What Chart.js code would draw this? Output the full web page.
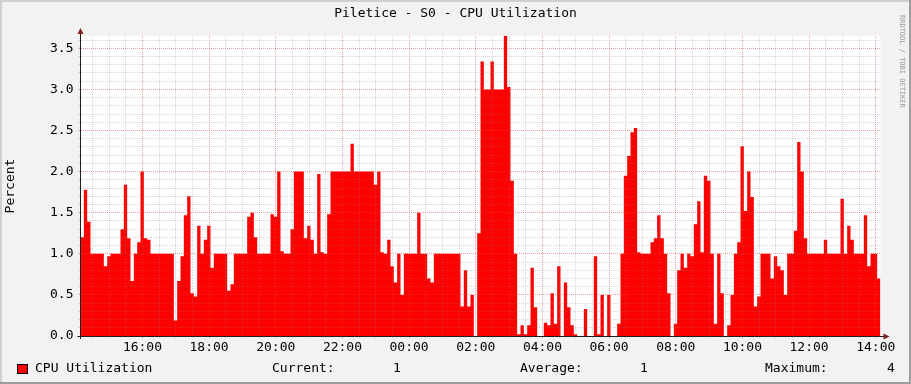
<!DOCTYPE html>
<html>
<head>
<meta charset="utf-8">
<title>Piletice - S0 - CPU Utilization</title>
<script src="https://cdn.jsdelivr.net/npm/chart.js@4.4.1/dist/chart.umd.min.js"></script>
<style>
  html, body { margin: 0; padding: 0; background: #f2f2f2; }
  #wrap { width: 911px; height: 384px; }
</style>
</head>
<body>
<div id="wrap"><canvas id="cpuChart" width="911" height="384"></canvas></div>
<script>
// 6 minute averages, minutes counted from 14:00 of the first day
const firstSampleMin = 8.5;
const sampleMin = 6;
const cpu = [
  1.2, 1.78, 1.39, 1.0, 1.0, 1.0, 1.0, 0.85, 0.97, 1.0,
  1.0, 1.0, 1.3, 1.84, 1.19, 0.67, 1.0, 1.14, 2.0, 1.19,
  1.17, 1.0, 1.0, 1.0, 1.0, 1.0, 1.0, 1.0, 0.19, 0.67,
  0.97, 1.47, 1.7, 0.52, 0.48, 1.34, 1.0, 1.17, 1.34, 0.83,
  1.0, 1.0, 1.0, 1.0, 0.55, 0.63, 1.0, 1.0, 1.0, 1.0,
  1.45, 1.5, 1.2, 1.0, 1.0, 1.0, 1.0, 1.48, 1.45, 2.0,
  1.03, 1.0, 1.0, 1.3, 2.0, 2.0, 2.0, 1.19, 1.34, 1.17,
  1.0, 1.97, 1.02, 1.0, 1.48, 2.0, 2.0, 2.0, 2.0, 2.0,
  2.0, 2.34, 2.0, 2.0, 2.0, 2.0, 2.0, 2.0, 1.84, 2.0,
  1.02, 1.0, 1.17, 0.85, 0.65, 1.0, 0.5, 1.0, 1.0, 1.0,
  1.0, 1.5, 1.0, 1.0, 0.7, 0.65, 1.0, 1.0, 1.0, 1.0,
  1.0, 1.0, 1.0, 1.0, 0.36, 0.8, 0.36, 0.5, 0, 1.25,
  3.34, 3.0, 3.0, 3.34, 3.0, 3.0, 3.0, 3.65, 3.03, 1.89,
  1.0, 0.02, 0.13, 0.02, 0.13, 0.83, 0.35, 0, 0, 0.16,
  0.13, 0.52, 0.15, 0.85, 0, 0.65, 0.35, 0.13, 0.02, 0,
  0, 0.33, 0, 0, 0.97, 0.02, 0.5, 0, 0.5, 0,
  0, 0.15, 1.0, 1.95, 2.19, 2.48, 2.53, 1.02, 1.0, 1.0,
  1.0, 1.14, 1.19, 1.47, 1.19, 1.0, 0.52, 0, 0.15, 0.8,
  1.0, 0.83, 1.0, 0.97, 1.36, 1.64, 1.02, 1.95, 1.89, 1.0,
  0.15, 1.0, 0.52, 0, 0.13, 0.5, 1.0, 1.14, 2.31, 1.52,
  2.0, 1.69, 0.36, 0.48, 1.0, 1.0, 1.0, 0.7, 0.97, 0.85,
  0.8, 0.5, 1.0, 1.0, 1.28, 2.36, 2.0, 1.19, 1.0, 1.0,
  1.0, 1.0, 1.0, 1.17, 1.0, 1.0, 1.0, 1.0, 1.67, 1.0,
  1.34, 1.17, 1.0, 1.0, 1.0, 1.47, 0.85, 1.0, 1.0, 0.7
];
const timeLabels = ['16:00', '18:00', '20:00', '22:00', '00:00', '02:00',
                    '04:00', '06:00', '08:00', '10:00', '12:00', '14:00'];
const yLabels = ['0.0', '0.5', '1.0', '1.5', '2.0', '2.5', '3.0', '3.5'];
const legendNames = ['Current:', 'Average:', 'Maximum:'];
const legendValues = ['1', '1', '4'];

const FONT = "'DejaVu Sans Mono', 'Liberation Mono', monospace";
const MINOR = 'rgba(130,130,130,0.32)';
const MAJOR = 'rgba(222,70,70,0.5)';

const points = cpu.map((v, k) => ({ x: firstSampleMin + k * sampleMin, y: v }));
points.push({ x: firstSampleMin + cpu.length * sampleMin, y: cpu[cpu.length - 1] });

const rrdLook = {
    id: 'rrdLook',
    beforeDraw(chart) {
        const c = chart.ctx, a = chart.chartArea;
        c.save();
        c.fillStyle = '#f2f2f2';
        c.fillRect(0, 0, chart.width, chart.height);
        // 3d frame
        c.fillStyle = '#cfcfcf';
        c.fillRect(0, 0, chart.width, 2);
        c.fillRect(0, 0, 2, chart.height);
        c.fillStyle = '#9e9e9e';
        c.fillRect(0, chart.height - 2, chart.width, 2);
        c.fillRect(chart.width - 2, 0, 2, chart.height);
        c.fillStyle = '#ffffff';
        c.fillRect(a.left, a.top, a.right - a.left, a.bottom - a.top);
        c.restore();
    },
    afterDraw(chart) {
        const c = chart.ctx, a = chart.chartArea;
        c.save();
        // axes
        c.strokeStyle = '#1f1f1f';
        c.lineWidth = 1;
        c.beginPath();
        c.moveTo(Math.floor(a.left) + 0.5, a.bottom + 3);
        c.lineTo(Math.floor(a.left) + 0.5, a.top - 4);
        c.moveTo(a.left - 3, a.bottom + 0.5);
        c.lineTo(a.right + 4, a.bottom + 0.5);
        c.stroke();
        c.fillStyle = '#801f1f';
        const ax = Math.floor(a.left) + 0.5;
        c.beginPath();
        c.moveTo(ax - 3, a.top - 2);
        c.lineTo(ax + 3, a.top - 2);
        c.lineTo(ax, a.top - 8);
        c.closePath();
        c.fill();
        const ay = a.bottom + 0.5;
        c.beginPath();
        c.moveTo(a.right + 3, ay - 3);
        c.lineTo(a.right + 3, ay + 3);
        c.lineTo(a.right + 9, ay);
        c.closePath();
        c.fill();

        c.fillStyle = '#000';
        c.font = '13px ' + FONT;
        c.textBaseline = 'middle';
        c.textAlign = 'center';
        c.fillText('Piletice - S0 - CPU Utilization', 455.5, 14);

        c.save();
        c.translate(11, (a.top + a.bottom) / 2);
        c.rotate(-Math.PI / 2);
        c.fillText('Percent', 0, 0);
        c.restore();

        c.save();
        c.fillStyle = '#9a9a9a';
        c.font = '7px ' + FONT;
        c.textAlign = 'left';
        c.translate(902, 15);
        c.rotate(Math.PI / 2);
        c.fillText('RRDTOOL / TOBI OETIKER', 0, 0);
        c.restore();

        // legend row
        c.fillStyle = '#ff0000';
        c.fillRect(17.5, 364.5, 10, 9);
        c.strokeStyle = '#000';
        c.strokeRect(17.5, 364.5, 10, 9);
        c.fillStyle = '#000';
        c.textAlign = 'left';
        c.fillText(chart.data.datasets[0].label, 35, 369);
        const nameX = [272, 520, 765];
        const valX = [393, 640, 887];
        legendNames.forEach((n, i) => {
            c.fillText(n, nameX[i], 369);
            c.fillText(legendValues[i], valX[i], 369);
        });
        c.restore();
    }
};

const ctx = document.getElementById('cpuChart').getContext('2d');
const cpuChart = new Chart(ctx, {
    type: 'line',
    data: {
        datasets: [{
            label: 'CPU Utilization',
            data: points,
            stepped: 'before',
            fill: 'origin',
            backgroundColor: '#ff0000',
            borderColor: 'rgba(0,0,0,0)',
            borderWidth: 0,
            pointRadius: 0,
            pointHoverRadius: 0
        }]
    },
    options: {
        responsive: false,
        animation: false,
        devicePixelRatio: 1,
        layout: { padding: { left: 0, top: 36, right: 30.5, bottom: 28 } },
        plugins: {
            legend: { display: false },
            title: { display: false },
            tooltip: { enabled: false }
        },
        scales: {
            x: {
                type: 'linear',
                min: firstSampleMin,
                max: firstSampleMin + cpu.length * sampleMin,
                afterFit: s => { s.height = 20; },
                afterBuildTicks: s => {
                    const t = [];
                    for (let m = 30; m <= 1440; m += 30) t.push({ value: m });
                    s.ticks = t;
                },
                ticks: {
                    autoSkip: false,
                    maxRotation: 0,
                    padding: 2,
                    color: '#000',
                    font: { family: FONT, size: 13 },
                    callback: v => (v % 120 === 0 ? timeLabels[v / 120 - 1] : '')
                },
                grid: {
                    z: 1,
                    lineWidth: 1,
                    tickLength: 2,
                    color: c => (c.tick && c.tick.value % 120 === 0 ? MAJOR : MINOR),
                    tickColor: c => (c.tick && c.tick.value % 120 === 0 ? MAJOR : MINOR)
                },
                border: { display: false, dash: [1, 1] }
            },
            y: {
                min: 0,
                max: 3.65,
                afterFit: s => { s.width = 80.5; },
                afterBuildTicks: s => {
                    const t = [];
                    for (let i = 0; i <= 36; i++) t.push({ value: i / 10 });
                    s.ticks = t;
                },
                ticks: {
                    autoSkip: false,
                    padding: 5,
                    color: '#000',
                    font: { family: FONT, size: 13 },
                    callback: v => {
                        const i = Math.round(v * 10);
                        return i % 5 === 0 ? yLabels[i / 5] : '';
                    }
                },
                grid: {
                    z: 1,
                    lineWidth: 1,
                    tickLength: 2,
                    color: c => {
                        if (!c.tick) return MINOR;
                        const i = Math.round(c.tick.value * 10);
                        if (i === 0) return 'rgba(0,0,0,0)';
                        return i % 5 === 0 ? MAJOR : MINOR;
                    },
                    tickColor: c => {
                        if (!c.tick) return MINOR;
                        return Math.round(c.tick.value * 10) % 5 === 0 ? MAJOR : MINOR;
                    }
                },
                border: { display: false, dash: [1, 1] }
            }
        }
    },
    plugins: [rrdLook]
});
</script>
</body>
</html>
